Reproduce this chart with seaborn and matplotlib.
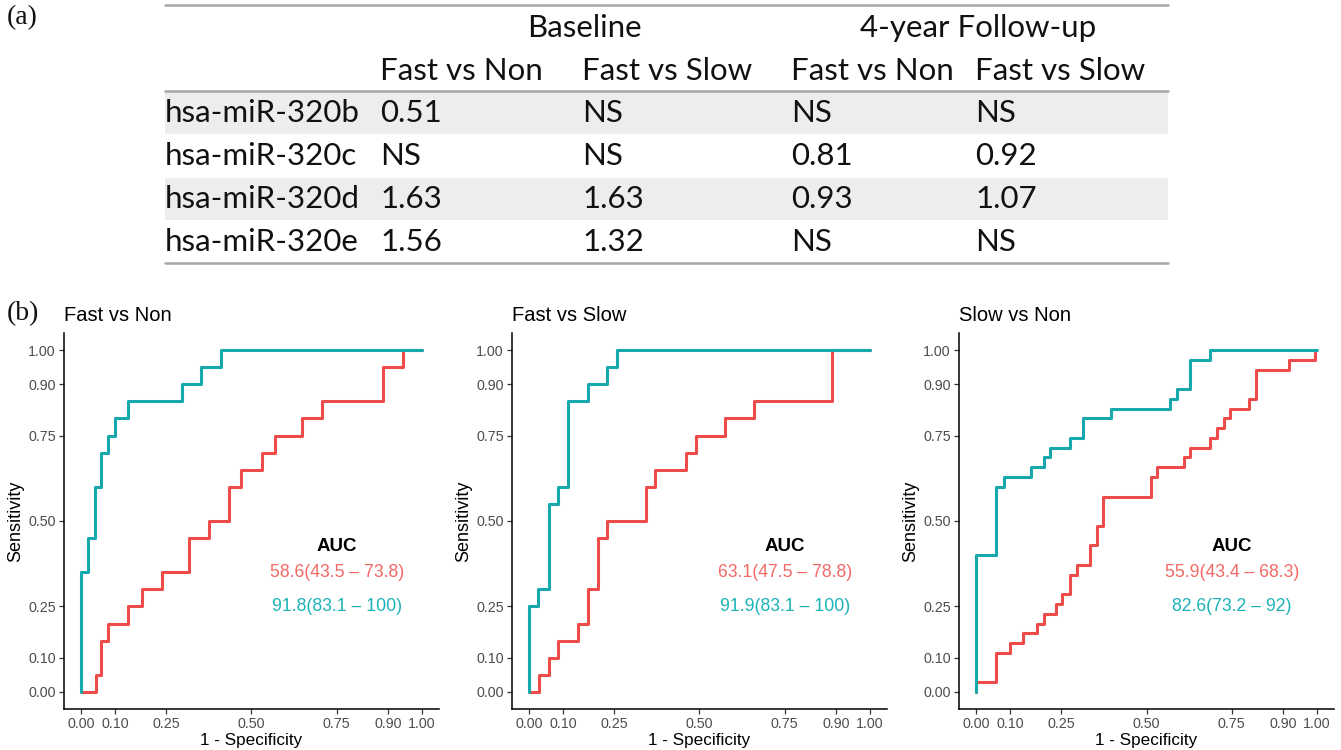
import matplotlib
matplotlib.use("Agg")
import matplotlib.pyplot as plt
import seaborn as sns
import pandas as pd

# ---- table (a) ----
groups = ["Baseline", "4-year Follow-up"]
comparisons = ["Fast vs Non", "Fast vs Slow", "Fast vs Non", "Fast vs Slow"]
mirnas = ["hsa-miR-320b", "hsa-miR-320c", "hsa-miR-320d", "hsa-miR-320e"]
fold_changes = [
    ["0.51", "NS", "NS", "NS"],
    ["NS", "NS", "0.81", "0.92"],
    ["1.63", "1.63", "0.93", "1.07"],
    ["1.56", "1.32", "NS", "NS"],
]

# ---- ROC curves (b) ----
panel_titles = ["Fast vs Non", "Fast vs Slow", "Slow vs Non"]

red_fpr = [
    [0, 0.043, 0.059, 0.08, 0.139, 0.178, 0.238, 0.316, 0.375, 0.433, 0.47, 0.531, 0.57, 0.648, 0.706, 0.885, 0.945, 1.0],
    [0, 0.029, 0.059, 0.086, 0.145, 0.172, 0.201, 0.23, 0.342, 0.37, 0.46, 0.489, 0.575, 0.66, 0.89, 1.0],
    [0, 0, 0.06, 0.10, 0.139, 0.178, 0.198, 0.234, 0.253, 0.276, 0.295, 0.334, 0.354, 0.373, 0.512, 0.531,
     0.609, 0.629, 0.687, 0.707, 0.726, 0.746, 0.80, 0.82, 0.917, 0.994],
]
red_tpr = [
    [0, 0.05, 0.15, 0.20, 0.25, 0.30, 0.35, 0.45, 0.50, 0.60, 0.65, 0.70, 0.75, 0.80, 0.85, 0.95, 1.0, 1.0],
    [0, 0.05, 0.10, 0.15, 0.20, 0.30, 0.45, 0.50, 0.60, 0.65, 0.70, 0.75, 0.80, 0.85, 1.0, 1.0],
    [0, 0.029, 0.114, 0.143, 0.171, 0.20, 0.229, 0.257, 0.286, 0.343, 0.371, 0.429, 0.486, 0.571, 0.629, 0.657,
     0.686, 0.714, 0.743, 0.771, 0.80, 0.829, 0.857, 0.943, 0.971, 1.0],
]
teal_fpr = [
    [0, 0, 0.02, 0.04, 0.06, 0.08, 0.10, 0.137, 0.295, 0.353, 0.412, 1.0],
    [0, 0, 0.027, 0.059, 0.086, 0.115, 0.172, 0.23, 0.257, 1.0],
    [0, 0, 0.06, 0.081, 0.161, 0.198, 0.217, 0.276, 0.315, 0.395, 0.57, 0.589, 0.629, 0.687, 1.0],
]
teal_tpr = [
    [0, 0.35, 0.45, 0.60, 0.70, 0.75, 0.80, 0.85, 0.90, 0.95, 1.0, 1.0],
    [0, 0.25, 0.30, 0.55, 0.60, 0.85, 0.90, 0.95, 1.0, 1.0],
    [0, 0.40, 0.60, 0.629, 0.657, 0.686, 0.714, 0.743, 0.80, 0.829, 0.857, 0.886, 0.971, 1.0, 1.0],
]
auc_red = ["58.6(43.5 \u2013 73.8)", "63.1(47.5 \u2013 78.8)", "55.9(43.4 \u2013 68.3)"]
auc_teal = ["91.8(83.1 \u2013 100)", "91.9(83.1 \u2013 100)", "82.6(73.2 \u2013 92)"]
ticks = [0, 0.10, 0.25, 0.50, 0.75, 0.90, 1.00]

RED_LINE, TEAL_LINE = "#EE4B4B", "#17A8AD"
RED_TXT, TEAL_TXT = "#F26A66", "#1BB3B8"

sns.set_theme(style="ticks")
plt.rcParams["font.family"] = ["Liberation Sans", "DejaVu Sans"]

W, H = 1341, 750
fig = plt.figure(figsize=(W / 100, H / 100), dpi=100)

# table drawn in a pixel-coordinate overlay
tab = fig.add_axes([0, 0, 1, 1])
tab.set_xlim(0, W)
tab.set_ylim(H, 0)
tab.axis("off")

tfont = dict(family=["Lato", "DejaVu Sans"], fontsize=22.5, color="#111111", va="center")
x_left, x_right = 165, 1168
col_x = [380, 582, 791, 975]
row_y = [113, 156, 199, 242]
for i, y in enumerate(row_y):
    if i % 2 == 0:
        tab.fill_between([x_left, x_right], y - 21, y + 21, color="#EDEDED", lw=0)
for y in [5, 91, 263]:
    tab.plot([x_left, x_right], [y, y], color="#A8A8A8", lw=1.8)

tab.text(584, 28, groups[0], ha="center", **tfont)
tab.text(978, 28, groups[1], ha="center", **tfont)
for cx, c in zip(col_x, comparisons):
    tab.text(cx, 71, c, ha="left", **tfont)
for y, name, vals in zip(row_y, mirnas, fold_changes):
    tab.text(x_left, y, name, ha="left", **tfont)
    for cx, v in zip(col_x, vals):
        tab.text(cx, y, v, ha="left", **tfont)

tab.text(7, 18, "(a)", family=["Liberation Serif"], fontsize=20, va="center", ha="left", color="#111111")
tab.text(7, 314, "(b)", family=["Liberation Serif"], fontsize=20, va="center", ha="left", color="#111111")

# ROC panels
lefts = [64, 512, 959]
for k in range(3):
    ax = fig.add_axes([lefts[k] / W, (H - 709) / H, 375 / W, 376 / H])
    sns.lineplot(x=red_fpr[k], y=red_tpr[k], sort=False, estimator=None, drawstyle="steps-post",
                 color=RED_LINE, linewidth=2.2, ax=ax)
    sns.lineplot(x=teal_fpr[k], y=teal_tpr[k], sort=False, estimator=None, drawstyle="steps-post",
                 color=TEAL_LINE, linewidth=2.2, ax=ax)
    ax.set_xlim(-0.05, 1.05)
    ax.set_ylim(-0.05, 1.05)
    ax.set_xticks(ticks)
    ax.set_yticks(ticks)
    ax.set_xticklabels([f"{t:.2f}" for t in ticks])
    ax.set_yticklabels([f"{t:.2f}" for t in ticks])
    ax.tick_params(axis="both", labelsize=10.3, labelcolor="#4D4D4D", color="#333333",
                   length=3.5, width=0.9, pad=2.5)
    sns.despine(ax=ax)
    for s in ["left", "bottom"]:
        ax.spines[s].set_color("black")
        ax.spines[s].set_linewidth(1.1)
    ax.set_xlabel("1 - Specificity", fontsize=12.3, color="black", labelpad=1)
    ax.set_ylabel("Sensitivity", fontsize=13, color="black", labelpad=3)
    ax.set_title(panel_titles[k], loc="left", fontsize=14.5, color="black", pad=9)
    ax.text(0.75, 0.424, "AUC", ha="center", va="center", fontsize=13.5, fontweight="bold", color="black")
    ax.text(0.75, 0.348, auc_red[k], ha="center", va="center", fontsize=12.7, color=RED_TXT)
    ax.text(0.75, 0.25, auc_teal[k], ha="center", va="center", fontsize=12.7, color=TEAL_TXT)
    ax.set_facecolor("white")

fig.savefig("out.png", dpi=100, facecolor="white")
